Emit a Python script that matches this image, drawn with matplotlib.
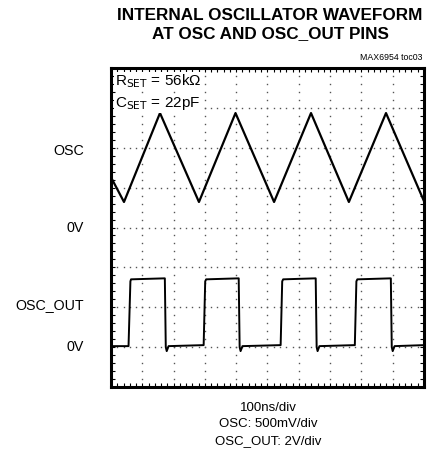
import matplotlib
matplotlib.use('Agg')
import matplotlib.pyplot as plt
import numpy as np

# OSC triangle wave: time (ns) and volts, 500mV/div, 0V on division 4
osc_t = [0, 41.5, 156.5, 281, 397.8, 521, 639, 760, 878.6, 1000]
osc_v = [0.63, 0.32, 1.435, 0.32, 1.435, 0.32, 1.435, 0.32, 1.435, 0.33]

# OSC_OUT square wave: 2V/div, 0V on division 1
out_t = [0, 56, 62, 64, 172, 175, 178, 184, 296, 301, 304, 408, 411, 414, 420,
         542, 547, 550, 654, 657, 660, 666, 779, 784, 787, 894, 897, 900, 906, 1000]
out_v = [0.05, 0.05, 3.3, 3.4, 3.45, 0.0, -0.2, 0.05, 0.1, 3.3, 3.4, 3.45, 0.0, -0.2, 0.05,
         0.1, 3.3, 3.4, 3.45, 0.0, -0.2, 0.05, 0.1, 3.3, 3.4, 3.45, 0.0, -0.2, 0.05, 0.1]

osc_zero, osc_scale = 4, 0.5
out_zero, out_scale = 1, 2.0

plt.rcParams['font.family'] = ['Liberation Sans', 'DejaVu Sans']

fig = plt.figure(figsize=(4.39, 4.58), dpi=100)
ax = fig.add_axes([111 / 439, 71 / 458, 313 / 439, 319 / 458])

ax.set_xlim(0, 1000)
ax.set_ylim(0, 8)

# dotted graticule
for gx in range(100, 1000, 100):
    gy = np.arange(0, 8.01, 0.2)
    ax.plot([gx] * len(gy), gy, ls='none', marker='s', ms=1.0, color='#555555', mew=0)
for gy in range(1, 8):
    gx = np.arange(0, 1000.1, 20)
    ax.plot(gx, [gy] * len(gx), ls='none', marker='s', ms=1.0, color='#555555', mew=0)

ax.plot(osc_t, [osc_zero + v / osc_scale for v in osc_v], color='black', lw=1.6)
ax.plot(out_t, [out_zero + v / out_scale for v in out_v], color='black', lw=1.4)

ax.set_xticks(range(0, 1001, 100))
ax.set_xticks(range(0, 1001, 20), minor=True)
ax.set_yticks(range(0, 9))
ax.set_yticks(np.arange(0, 8.01, 0.2), minor=True)
ax.tick_params(which='both', direction='in', length=3, width=0.8, top=True, right=True,
               labelbottom=False, labelleft=False)
for s in ax.spines.values():
    s.set_linewidth(2.2)

tr = ax.get_yaxis_transform()
for y, lab in [(5.92, 'OSC'), (4.0, '0V'), (2.06, 'OSC_OUT'), (1.0, '0V')]:
    ax.text(-0.087, y, lab, transform=tr, ha='right', va='center', fontsize=10.3)

ax.text(0.012, 0.985, 'R$_{\\mathrm{SET}}$ = 56kΩ', transform=ax.transAxes,
        ha='left', va='top', fontsize=11,
        bbox=dict(facecolor='white', edgecolor='none', pad=0.5))
ax.text(0.012, 0.915, 'C$_{\\mathrm{SET}}$ = 22pF', transform=ax.transAxes,
        ha='left', va='top', fontsize=11,
        bbox=dict(facecolor='white', edgecolor='none', pad=0.5))

fig.text(270 / 439, 1 - 15 / 458, 'INTERNAL OSCILLATOR WAVEFORM', ha='center', va='center',
         fontsize=12.3, fontweight='bold')
fig.text(270 / 439, 1 - 34 / 458, 'AT OSC AND OSC_OUT PINS', ha='center', va='center',
         fontsize=12.3, fontweight='bold')
fig.text(423 / 439, 1 - 57 / 458, 'MAX6954 toc03', ha='right', va='center', fontsize=6.3)

for y, lab in [(408, '100ns/div'), (424, 'OSC: 500mV/div'), (441, 'OSC_OUT: 2V/div')]:
    fig.text(268 / 439, 1 - y / 458, lab, ha='center', va='center', fontsize=9.5)

fig.savefig('out.png', dpi=100)
